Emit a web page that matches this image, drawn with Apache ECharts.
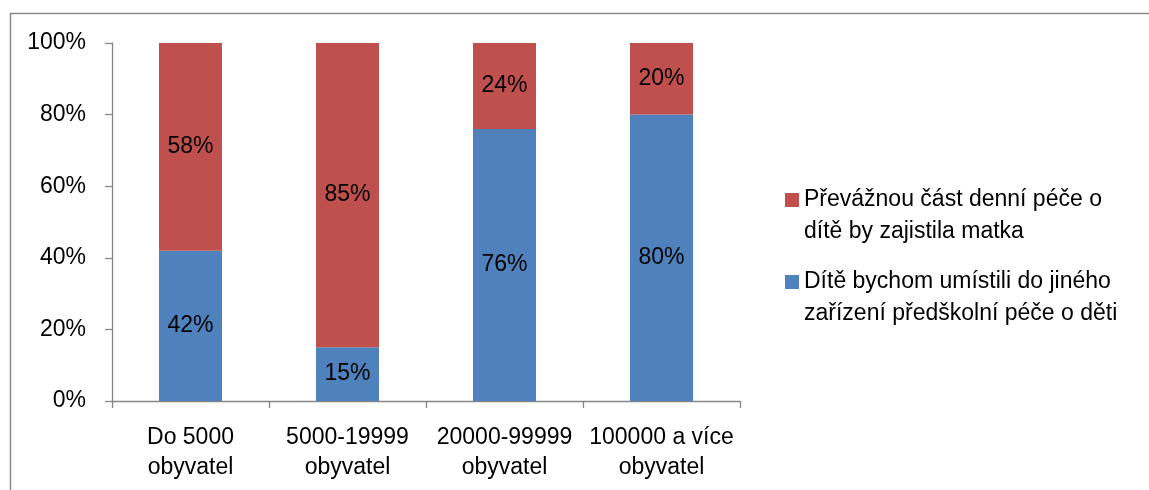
<!DOCTYPE html>
<html>
<head>
<meta charset="utf-8">
<script src="https://cdn.jsdelivr.net/npm/echarts@6/dist/echarts.min.js"></script>
<style>html,body{margin:0;padding:0;background:#fff}#c{width:1149px;height:490px}</style>
</head>
<body>
<div id="c"></div>
<script>
var categories = ['Do 5000\nobyvatel', '5000-19999\nobyvatel', '20000-99999\nobyvatel', '100000 a více\nobyvatel'];
var seriesNames = ['Převážnou část denní péče o\ndítě by zajistila matka', 'Dítě bychom umístili do jiného\nzařízení předškolní péče o děti'];
var motherValues = [58, 85, 24, 20];
var facilityValues = [42, 15, 76, 80];
var yTicks = [0, 20, 40, 60, 80, 100];

var FONT = 'Liberation Sans';
var FS = 23;
var chart = echarts.init(document.getElementById('c'), null, {renderer: 'canvas'});
var legendText = {fontFamily: FONT, fontSize: FS, color: '#000', lineHeight: 32};
function legendFmt(name) { return ' \n' + name; }
chart.setOption({
  animation: false,
  graphic: [{
    type: 'polyline', silent: true,
    shape: {points: [[10.5, 600], [10.5, 13.5], [1300, 13.5]]},
    style: {fill: 'none', stroke: '#8a8a8a', lineWidth: 1.5}
  }],
  grid: {left: 112, top: 43, right: 409, bottom: 89, containLabel: false},
  legend: [{
    data: [seriesNames[0]], orient: 'vertical', left: 785, top: 152, padding: 0,
    itemWidth: 14, itemHeight: 14, icon: 'rect', textStyle: legendText, itemGap: 0,
    formatter: legendFmt
  }, {
    data: [seriesNames[1]], orient: 'vertical', left: 785, top: 234, padding: 0,
    itemWidth: 14, itemHeight: 14, icon: 'rect', textStyle: legendText, itemGap: 0,
    formatter: legendFmt
  }],
  xAxis: {
    type: 'category', data: categories,
    axisLine: {lineStyle: {color: '#868686', width: 1.3}},
    axisTick: {show: true, length: 7, lineStyle: {color: '#868686', width: 1.3}},
    axisLabel: {fontFamily: FONT, fontSize: FS, color: '#000', lineHeight: 30, margin: 22, interval: 0}
  },
  yAxis: {
    type: 'value', min: 0, max: 100, interval: 20,
    axisLine: {show: true, lineStyle: {color: '#868686', width: 1.3}},
    axisTick: {show: true, length: 7, lineStyle: {color: '#868686', width: 1.3}},
    splitLine: {show: false},
    axisLabel: {fontFamily: FONT, fontSize: FS, color: '#000', margin: 26,
      formatter: function (v) { return yTicks.indexOf(v) >= 0 ? v + '%' : ''; }}
  },
  series: [{
    name: seriesNames[1], type: 'bar', stack: 's', data: facilityValues, barWidth: 63,
    itemStyle: {color: '#4F81BD'},
    label: {show: true, position: 'inside', formatter: '{c}%', fontFamily: FONT, fontSize: FS, color: '#000'}
  }, {
    name: seriesNames[0], type: 'bar', stack: 's', data: motherValues, barWidth: 63,
    itemStyle: {color: '#C0504D'},
    label: {show: true, position: 'inside', formatter: '{c}%', fontFamily: FONT, fontSize: FS, color: '#000'}
  }]
});
</script>
</body>
</html>
